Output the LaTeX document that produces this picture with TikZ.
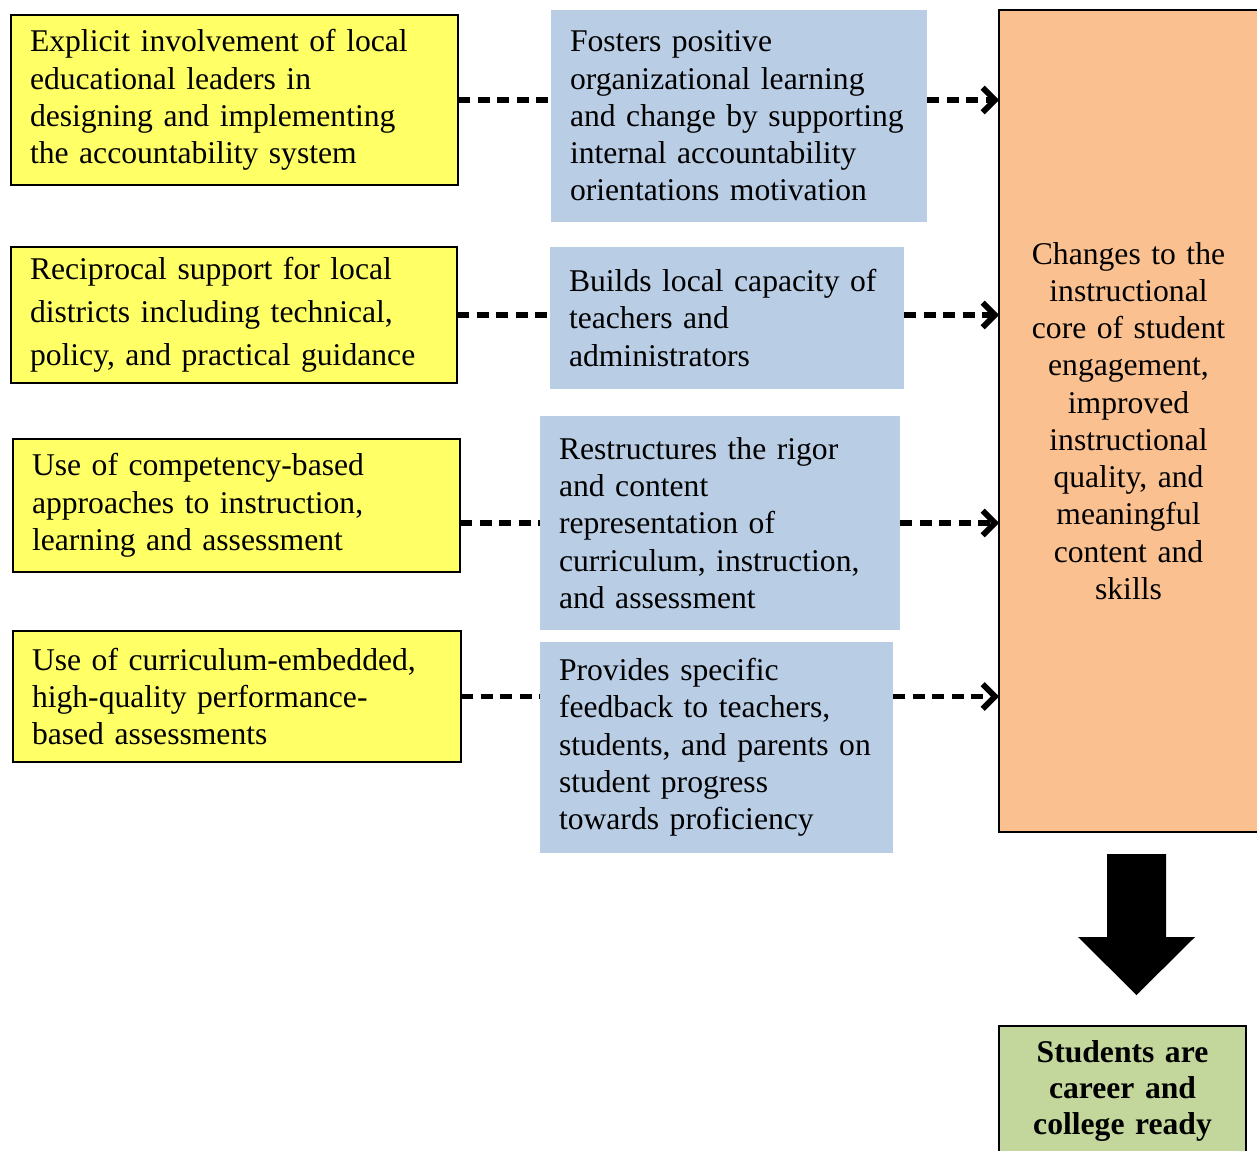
\documentclass[tikz,border=0pt]{standalone}
\usepackage{fontspec}
\setmainfont{Liberation Serif}
\usetikzlibrary{arrows.meta}

\definecolor{causeyellow}{RGB}{255,255,102}
\definecolor{mechblue}{RGB}{185,205,229}
\definecolor{coreorange}{RGB}{250,192,144}
\definecolor{outgreen}{RGB}{195,214,155}

\begin{document}
\begin{tikzpicture}[font=\fontsize{18}{21.2}\selectfont,
  cause/.style={draw, line width=0.9pt, fill=causeyellow, anchor=north west,
    outer sep=0pt, inner xsep=0.38cm, inner ysep=0pt, align=left},
  mech/.style={fill=mechblue, anchor=north west, outer sep=0pt,
    inner xsep=0.38cm, inner ysep=0pt, align=left},
  link/.style={line width=3.3pt, dash pattern=on 0.24cm off 0.15cm},
  tolink/.style={link, -{Straight Barb[length=7pt, width=14pt]}}]
  \useasboundingbox (0,0) rectangle (25.14,-23.0);
  % --- left: the four levers ---
  \node[cause, text width=8.18cm, minimum height=3.40cm] (y1) at (0.22,-0.30)
    {Explicit involvement of local\\ educational leaders in\\ designing and implementing\\ the accountability system};
  \node[cause, text width=8.16cm, minimum height=2.72cm] (y2) at (0.22,-4.94)
    {Reciprocal support for local\\[0.11cm] districts including technical,\\[0.11cm] policy, and practical guidance};
  \node[cause, text width=8.18cm, minimum height=2.66cm] (y3) at (0.26,-8.78)
    {Use of competency-based\\ approaches to instruction,\\ learning and assessment};
  \node[cause, text width=8.20cm, minimum height=2.62cm] (y4) at (0.26,-12.62)
    {Use of curriculum-embedded,\\ high-quality performance-\\ based assessments};
  % --- middle: what they do ---
  \node[mech, text width=6.76cm, minimum height=4.24cm] (b1) at (11.02,-0.20)
    {Fosters positive\\ organizational learning\\ and change by supporting\\ internal accountability\\ orientations motivation};
  \node[mech, text width=6.32cm, minimum height=2.84cm] (b2) at (11.00,-4.94)
    {Builds local capacity of\\ teachers and\\ administrators};
  \node[mech, text width=6.44cm, minimum height=4.28cm] (b3) at (10.80,-8.32)
    {Restructures the rigor\\ and content\\ representation of\\ curriculum, instruction,\\ and assessment};
  \node[mech, text width=6.30cm, minimum height=4.22cm] (b4) at (10.80,-12.84)
    {Provides specific\\ feedback to teachers,\\ students, and parents on\\ student progress\\ towards proficiency};
  % --- right: the core and the outcome ---
  \node[draw, line width=0.9pt, fill=coreorange, anchor=north west, outer sep=0pt,
    inner xsep=0.38cm, text width=4.42cm, minimum height=16.44cm, align=center] (core) at (19.98,-0.20)
    {Changes to the\\ instructional\\ core of student\\ engagement,\\ improved\\ instructional\\ quality, and\\ meaningful\\ content and\\ skills};
  \node[draw, line width=0.9pt, fill=outgreen, anchor=north west, outer sep=0pt,
    inner xsep=0.38cm, text width=4.18cm, minimum height=2.6cm, align=center,
    font=\fontsize{18}{20.6}\selectfont\bfseries] (ready) at (19.98,-20.52)
    {Students are\\ career and\\ college ready};
  % --- dashed links ---
  \draw[link] (y1.east) -- (y1.east -| b1.west);
  \draw[tolink] (y1.east -| b1.east) -- (y1.east -| core.west);
  \draw[link] (y2.east) -- (y2.east -| b2.west);
  \draw[tolink] (y2.east -| b2.east) -- (y2.east -| core.west);
  \draw[link] (b3.west -| y3.east) -- (b3.west);
  \draw[tolink] (b3.east) -- (b3.east -| core.west);
  \draw[link] (y4.east) -- (y4.east -| b4.west);
  \draw[tolink] (y4.east -| b4.east) -- (y4.east -| core.west);
  % --- block arrow down ---
  \fill (22.14,-17.08) -- (23.32,-17.08) -- (23.32,-18.74) -- (23.90,-18.74)
    -- (22.73,-19.90) -- (21.56,-18.74) -- (22.14,-18.74) -- cycle;
\end{tikzpicture}
\end{document}
